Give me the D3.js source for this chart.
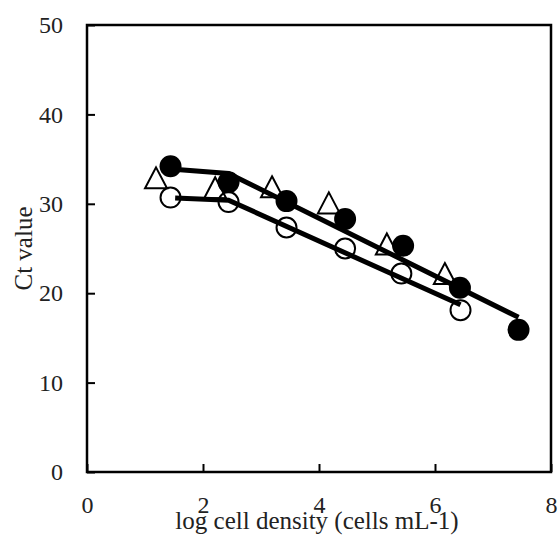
<html>
<head>
<style>
  body { margin: 0; background: #fff; }
  svg text { font-family: "Liberation Serif", "DejaVu Serif", serif; fill: #222; }
  .tick line { stroke: #000; stroke-width: 2; }
</style>
</head>
<body>
<script src="https://d3js.org/d3.v7.min.js"></script>
<script>
// values
var xTicks = [0, 2, 4, 6, 8];
var yTicks = [0, 10, 20, 30, 40, 50];

// filled circles
var xFilled = [1.44, 2.44, 3.44, 4.45, 5.45, 6.43, 7.44];
var ctFilled = [34.2, 32.4, 30.3, 28.3, 25.3, 20.6, 15.9];
// open circles
var xOpen = [1.44, 2.44, 3.44, 4.45, 5.42, 6.44];
var ctOpen = [30.7, 30.2, 27.35, 25.0, 22.2, 18.1];
// open triangles
var xTri = [1.19, 2.21, 3.19, 4.17, 5.17, 6.17];
var ctTri = [32.9, 31.8, 31.9, 30.1, 25.5, 22.2];

// fitted lines (two segments each)
var fitFilledX = [1.44, 2.44, 7.44];
var fitFilledY = [33.9, 33.4, 17.3];
var fitOpenX = [1.52, 2.44, 6.44];
var fitOpenY = [30.65, 30.4, 18.7];

var width = 560, height = 536;
var plot = {left: 87, right: 551, top: 25, bottom: 472};
var serif = '"Liberation Serif", "DejaVu Serif", serif';

var svg = d3.select("body").append("svg")
    .attr("width", width)
    .attr("height", height);

var x = d3.scaleLinear().domain([0, 8]).range([plot.left, plot.right]);
var y = d3.scaleLinear().domain([0, 50]).range([plot.bottom, plot.top]);

// axes with ticks pointing inwards
function styleAxis(g){
  g.select(".domain").remove();
  g.attr("font-family", serif).attr("font-size", 24);
  g.selectAll(".tick text").style("font-family", serif).style("font-size", "24px");
}

svg.append("g")
    .attr("transform", "translate(0," + plot.bottom + ")")
    .call(d3.axisBottom(x).tickValues(xTicks).tickSize(-8).tickSizeOuter(0).tickPadding(24))
    .call(styleAxis);

svg.append("g")
    .attr("transform", "translate(" + plot.left + ",0)")
    .call(d3.axisLeft(y).tickValues(yTicks).tickSize(-8).tickSizeOuter(0).tickPadding(24))
    .call(styleAxis);

// frame
svg.append("rect")
    .attr("x", plot.left)
    .attr("y", plot.top)
    .attr("width", plot.right - plot.left)
    .attr("height", plot.bottom - plot.top)
    .attr("fill", "none")
    .attr("stroke", "#000")
    .attr("stroke-width", 2.5);

// triangle marker centred on its bounding box
var triangle = {
  draw: function(ctx, size){
    var w = 22, h = 21;
    ctx.moveTo(0, -h / 2);
    ctx.lineTo(w / 2, h / 2);
    ctx.lineTo(-w / 2, h / 2);
    ctx.closePath();
  }
};

svg.append("g").selectAll("path")
    .data(d3.range(xTri.length))
    .enter().append("path")
    .attr("d", d3.symbol().type(triangle))
    .attr("transform", function(i){ return "translate(" + x(xTri[i]) + "," + y(ctTri[i]) + ")"; })
    .attr("fill", "none")
    .attr("stroke", "#000")
    .attr("stroke-width", 2);

svg.append("g").selectAll("circle")
    .data(d3.range(xOpen.length))
    .enter().append("circle")
    .attr("cx", function(i){ return x(xOpen[i]); })
    .attr("cy", function(i){ return y(ctOpen[i]); })
    .attr("r", 10)
    .attr("fill", "none")
    .attr("stroke", "#000")
    .attr("stroke-width", 2);

// fitted lines
var line = d3.line()
    .x(function(d){ return x(d[0]); })
    .y(function(d){ return y(d[1]); });

[[fitFilledX, fitFilledY], [fitOpenX, fitOpenY]].forEach(function(f){
  svg.append("path")
      .attr("d", line(d3.zip(f[0], f[1])))
      .attr("fill", "none")
      .attr("stroke", "#000")
      .attr("stroke-width", 5)
      .attr("stroke-linejoin", "miter");
});

svg.append("g").selectAll("circle")
    .data(d3.range(xFilled.length))
    .enter().append("circle")
    .attr("cx", function(i){ return x(xFilled[i]); })
    .attr("cy", function(i){ return y(ctFilled[i]); })
    .attr("r", 11)
    .attr("fill", "#000");

// axis titles
svg.append("text")
    .attr("x", 317)
    .attr("y", 529)
    .attr("text-anchor", "middle")
    .style("font-size", "25px")
    .text("log cell density (cells mL-1)");

svg.append("text")
    .attr("transform", "translate(32," + ((plot.top + plot.bottom) / 2) + ") rotate(-90)")
    .attr("text-anchor", "middle")
    .style("font-size", "25px")
    .text("Ct value");
</script>
</body>
</html>
